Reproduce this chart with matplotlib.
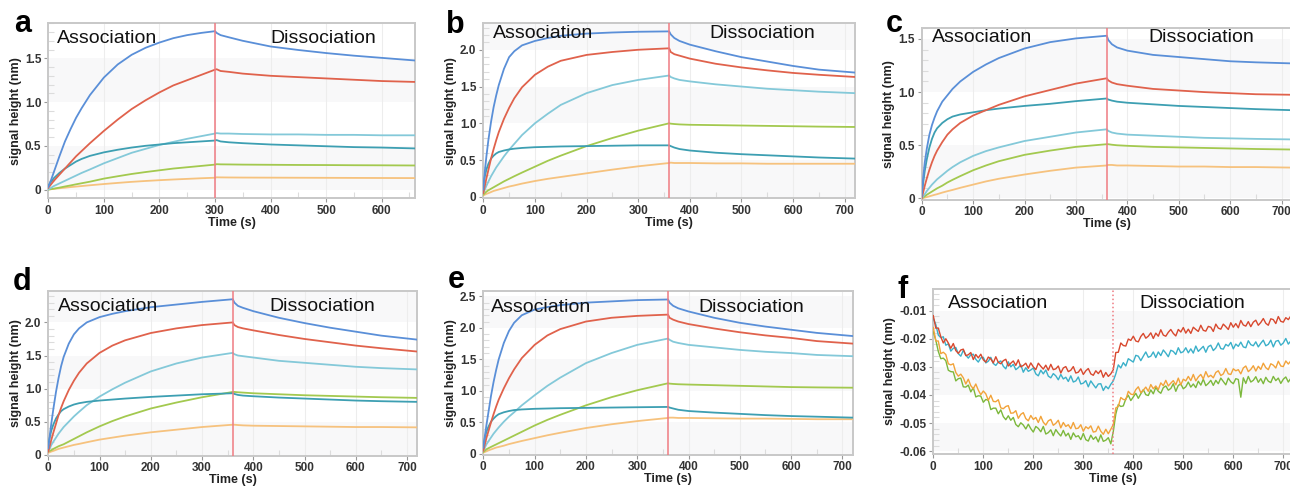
import numpy as np
import matplotlib
matplotlib.use('Agg')
import matplotlib.pyplot as plt
from matplotlib.ticker import FuncFormatter, MultipleLocator, FixedLocator

plt.rcParams['font.family'] = ['Liberation Sans', 'DejaVu Sans']
plt.rcParams['axes.unicode_minus'] = False

# curve colours (highest concentration first)
BLUE = '#5a8fd8'
RED = '#e0624c'
LCYAN = '#84c9d9'
TEAL = '#3d9fb2'
GREEN = '#a3c94f'
ORANGE = '#f6c27e'
STEP_LINE = '#ef7b82'

# ---- panel a : association 0-300 s ----
A_TIME = [0, 5, 10, 20, 30, 40, 50, 60, 75, 100, 125, 150, 175, 200, 225, 250, 275, 300,
          303, 310, 325, 350, 400, 450, 500, 550, 600, 660]
A_BLUE = [0.03, 0.11, 0.20, 0.38, 0.55, 0.69, 0.82, 0.93, 1.08, 1.28, 1.43, 1.54, 1.62, 1.68, 1.73, 1.765, 1.79, 1.81,
          1.79, 1.765, 1.74, 1.70, 1.635, 1.595, 1.56, 1.53, 1.505, 1.475]
A_RED = [0.02, 0.06, 0.10, 0.17, 0.24, 0.31, 0.38, 0.44, 0.53, 0.67, 0.80, 0.92, 1.02, 1.11, 1.19, 1.25, 1.31, 1.37,
         1.375, 1.355, 1.345, 1.325, 1.30, 1.285, 1.27, 1.255, 1.24, 1.23]
A_LCYAN = [0.0, 0.02, 0.04, 0.07, 0.10, 0.13, 0.16, 0.19, 0.23, 0.30, 0.36, 0.42, 0.465, 0.51, 0.545, 0.58, 0.61, 0.64,
           0.645, 0.64, 0.64, 0.635, 0.63, 0.63, 0.625, 0.625, 0.62, 0.62]
A_TEAL = [0.04, 0.09, 0.13, 0.19, 0.24, 0.28, 0.32, 0.35, 0.385, 0.425, 0.455, 0.48, 0.50, 0.515, 0.53, 0.54, 0.55, 0.56,
          0.565, 0.55, 0.54, 0.53, 0.515, 0.505, 0.495, 0.485, 0.48, 0.47]
A_GREEN = [0.0, 0.005, 0.01, 0.022, 0.035, 0.047, 0.06, 0.072, 0.09, 0.125, 0.152, 0.178, 0.20, 0.22, 0.24, 0.255, 0.27, 0.285,
           0.29, 0.288, 0.287, 0.285, 0.283, 0.281, 0.28, 0.278, 0.277, 0.275]
A_ORANGE = [0.0, 0.004, 0.008, 0.015, 0.021, 0.028, 0.034, 0.040, 0.049, 0.063, 0.076, 0.088, 0.098, 0.107, 0.115, 0.122, 0.129, 0.135,
            0.14, 0.139, 0.138, 0.137, 0.136, 0.135, 0.134, 0.133, 0.132, 0.131]

# ---- panels b-e : association 0-360 s ----
T360 = [0, 3, 6, 10, 15, 20, 25, 30, 40, 50, 60, 75, 100, 125, 150, 200, 250, 300, 360,
        363, 370, 380, 400, 450, 500, 550, 600, 650, 720]

B_BLUE = [0.10, 0.35, 0.55, 0.78, 1.02, 1.22, 1.38, 1.52, 1.74, 1.90, 1.98, 2.06, 2.12, 2.16, 2.19, 2.22, 2.235, 2.245, 2.25,
          2.21, 2.16, 2.12, 2.07, 1.98, 1.90, 1.84, 1.78, 1.73, 1.69]
B_RED = [0.05, 0.15, 0.25, 0.37, 0.52, 0.65, 0.77, 0.88, 1.06, 1.21, 1.34, 1.49, 1.66, 1.77, 1.85, 1.93, 1.97, 2.00, 2.02,
         1.97, 1.94, 1.92, 1.88, 1.81, 1.76, 1.72, 1.685, 1.66, 1.63]
B_LCYAN = [0.05, 0.10, 0.15, 0.21, 0.28, 0.34, 0.40, 0.45, 0.55, 0.64, 0.72, 0.84, 1.00, 1.13, 1.25, 1.41, 1.52, 1.59, 1.65,
           1.63, 1.61, 1.59, 1.57, 1.53, 1.50, 1.47, 1.45, 1.43, 1.41]
B_TEAL = [0.15, 0.28, 0.37, 0.45, 0.52, 0.56, 0.59, 0.61, 0.63, 0.645, 0.655, 0.665, 0.675, 0.68, 0.685, 0.69, 0.695, 0.70, 0.70,
          0.69, 0.67, 0.65, 0.63, 0.60, 0.58, 0.565, 0.55, 0.535, 0.52]
B_GREEN = [0.03, 0.05, 0.07, 0.09, 0.11, 0.13, 0.15, 0.17, 0.21, 0.245, 0.28, 0.33, 0.41, 0.49, 0.56, 0.69, 0.80, 0.90, 1.00,
           0.995, 0.99, 0.985, 0.98, 0.975, 0.97, 0.965, 0.96, 0.955, 0.95]
B_ORANGE = [0.02, 0.03, 0.04, 0.05, 0.065, 0.08, 0.09, 0.10, 0.12, 0.14, 0.155, 0.18, 0.215, 0.245, 0.27, 0.32, 0.37, 0.415, 0.46,
            0.465, 0.46, 0.46, 0.46, 0.455, 0.455, 0.45, 0.45, 0.45, 0.45]

C_BLUE = [0.02, 0.20, 0.34, 0.47, 0.60, 0.69, 0.76, 0.82, 0.91, 0.97, 1.03, 1.10, 1.19, 1.26, 1.32, 1.41, 1.47, 1.505, 1.53,
          1.49, 1.45, 1.42, 1.39, 1.35, 1.33, 1.31, 1.29, 1.28, 1.27]
C_RED = [0.0, 0.06, 0.12, 0.19, 0.27, 0.34, 0.40, 0.45, 0.53, 0.60, 0.65, 0.71, 0.78, 0.83, 0.88, 0.96, 1.02, 1.08, 1.13,
         1.11, 1.09, 1.075, 1.06, 1.03, 1.015, 1.00, 0.99, 0.98, 0.975]
C_LCYAN = [0.0, 0.02, 0.04, 0.07, 0.10, 0.13, 0.155, 0.18, 0.22, 0.26, 0.295, 0.34, 0.40, 0.445, 0.48, 0.54, 0.58, 0.62, 0.65,
           0.635, 0.62, 0.61, 0.60, 0.59, 0.58, 0.57, 0.565, 0.56, 0.555]
C_TEAL = [0.02, 0.15, 0.26, 0.37, 0.48, 0.56, 0.62, 0.66, 0.71, 0.745, 0.77, 0.79, 0.81, 0.83, 0.845, 0.87, 0.89, 0.915, 0.94,
          0.93, 0.92, 0.91, 0.90, 0.885, 0.87, 0.86, 0.85, 0.84, 0.83]
C_GREEN = [0.0, 0.01, 0.02, 0.035, 0.05, 0.065, 0.08, 0.095, 0.12, 0.15, 0.175, 0.21, 0.265, 0.31, 0.35, 0.41, 0.45, 0.485, 0.51,
           0.51, 0.505, 0.50, 0.495, 0.485, 0.48, 0.475, 0.47, 0.465, 0.46]
C_ORANGE = [0.0, 0.004, 0.008, 0.013, 0.02, 0.027, 0.034, 0.04, 0.055, 0.068, 0.08, 0.10, 0.13, 0.16, 0.185, 0.225, 0.26, 0.29, 0.31,
            0.315, 0.315, 0.31, 0.31, 0.305, 0.30, 0.30, 0.295, 0.295, 0.29]

D_BLUE = [0.10, 0.30, 0.48, 0.70, 0.95, 1.16, 1.34, 1.48, 1.68, 1.82, 1.91, 2.00, 2.08, 2.13, 2.17, 2.23, 2.27, 2.31, 2.35,
          2.30, 2.25, 2.22, 2.17, 2.07, 1.99, 1.92, 1.86, 1.80, 1.74]
D_RED = [0.05, 0.14, 0.23, 0.34, 0.47, 0.60, 0.71, 0.81, 0.98, 1.12, 1.24, 1.38, 1.54, 1.65, 1.73, 1.84, 1.91, 1.96, 2.00,
         1.96, 1.93, 1.91, 1.88, 1.81, 1.75, 1.70, 1.65, 1.61, 1.56]
D_LCYAN = [0.05, 0.10, 0.15, 0.20, 0.26, 0.32, 0.37, 0.42, 0.50, 0.58, 0.65, 0.75, 0.88, 0.99, 1.09, 1.26, 1.38, 1.47, 1.54,
           1.52, 1.50, 1.49, 1.47, 1.42, 1.39, 1.36, 1.33, 1.31, 1.29]
D_TEAL = [0.15, 0.27, 0.37, 0.46, 0.55, 0.61, 0.66, 0.69, 0.73, 0.76, 0.78, 0.80, 0.82, 0.835, 0.85, 0.875, 0.895, 0.915, 0.93,
          0.92, 0.905, 0.895, 0.885, 0.865, 0.85, 0.835, 0.82, 0.81, 0.80]
D_GREEN = [0.05, 0.06, 0.07, 0.09, 0.11, 0.13, 0.145, 0.16, 0.20, 0.24, 0.28, 0.34, 0.43, 0.51, 0.58, 0.70, 0.79, 0.87, 0.95,
           0.95, 0.945, 0.94, 0.93, 0.915, 0.90, 0.89, 0.88, 0.87, 0.86]
D_ORANGE = [0.03, 0.04, 0.05, 0.06, 0.075, 0.09, 0.10, 0.11, 0.13, 0.15, 0.165, 0.19, 0.23, 0.26, 0.29, 0.34, 0.38, 0.42, 0.455,
            0.455, 0.45, 0.445, 0.44, 0.435, 0.43, 0.425, 0.42, 0.42, 0.415]

E_BLUE = [0.10, 0.28, 0.45, 0.66, 0.92, 1.14, 1.33, 1.50, 1.76, 1.95, 2.08, 2.20, 2.29, 2.33, 2.36, 2.40, 2.42, 2.44, 2.45,
          2.40, 2.35, 2.31, 2.26, 2.16, 2.08, 2.02, 1.97, 1.92, 1.87]
E_RED = [0.05, 0.15, 0.25, 0.36, 0.50, 0.63, 0.75, 0.86, 1.04, 1.20, 1.34, 1.52, 1.73, 1.88, 1.98, 2.10, 2.16, 2.19, 2.21,
         2.16, 2.13, 2.10, 2.06, 1.99, 1.93, 1.88, 1.84, 1.79, 1.75]
E_LCYAN = [0.05, 0.10, 0.15, 0.20, 0.26, 0.32, 0.37, 0.42, 0.51, 0.59, 0.66, 0.77, 0.93, 1.08, 1.21, 1.44, 1.60, 1.73, 1.83,
           1.81, 1.78, 1.76, 1.73, 1.69, 1.65, 1.62, 1.60, 1.57, 1.55]
E_TEAL = [0.12, 0.25, 0.35, 0.43, 0.51, 0.56, 0.60, 0.63, 0.66, 0.68, 0.695, 0.705, 0.715, 0.72, 0.725, 0.73, 0.735, 0.74, 0.745,
          0.735, 0.72, 0.70, 0.68, 0.655, 0.635, 0.615, 0.60, 0.59, 0.575]
E_GREEN = [0.03, 0.05, 0.07, 0.09, 0.11, 0.13, 0.15, 0.17, 0.21, 0.25, 0.29, 0.35, 0.45, 0.54, 0.62, 0.77, 0.90, 1.01, 1.12,
           1.115, 1.11, 1.105, 1.10, 1.09, 1.08, 1.07, 1.06, 1.055, 1.05]
E_ORANGE = [0.02, 0.03, 0.04, 0.055, 0.07, 0.085, 0.10, 0.11, 0.13, 0.155, 0.175, 0.205, 0.25, 0.295, 0.335, 0.41, 0.47, 0.52, 0.57,
            0.575, 0.575, 0.57, 0.57, 0.565, 0.56, 0.56, 0.555, 0.55, 0.55]

# ---- panel f : negative control, sampled every 5 s (0-720 s) ----
F_TIME = np.arange(0, 721, 5)
F_RED = [
    -0.0118, -0.0162, -0.0162, -0.0193, -0.0215, -0.0200, -0.0215, -0.0234, -0.0217, -0.0242,
    -0.0252, -0.0240, -0.0237, -0.0260, -0.0257, -0.0249, -0.0274, -0.0256, -0.0268, -0.0255,
    -0.0275, -0.0283, -0.0265, -0.0272, -0.0286, -0.0264, -0.0284, -0.0289, -0.0278, -0.0273,
    -0.0297, -0.0287, -0.0279, -0.0295, -0.0275, -0.0300, -0.0295, -0.0287, -0.0305, -0.0286,
    -0.0300, -0.0310, -0.0287, -0.0298, -0.0308, -0.0294, -0.0312, -0.0291, -0.0310, -0.0307,
    -0.0297, -0.0322, -0.0304, -0.0299, -0.0317, -0.0312, -0.0299, -0.0322, -0.0319, -0.0307,
    -0.0327, -0.0314, -0.0306, -0.0325, -0.0330, -0.0314, -0.0324, -0.0312, -0.0337, -0.0320,
    -0.0334, -0.0325, -0.0310,
    -0.0249, -0.0248, -0.0215, -0.0224, -0.0226, -0.0201, -0.0206, -0.0191, -0.0208, -0.0211,
    -0.0192, -0.0181, -0.0198, -0.0191, -0.0179, -0.0199, -0.0180, -0.0191, -0.0168, -0.0187,
    -0.0191, -0.0177, -0.0167, -0.0181, -0.0190, -0.0167, -0.0176, -0.0160, -0.0180, -0.0166,
    -0.0181, -0.0159, -0.0167, -0.0174, -0.0152, -0.0170, -0.0173, -0.0156, -0.0159, -0.0174,
    -0.0148, -0.0162, -0.0166, -0.0148, -0.0157, -0.0167, -0.0143, -0.0159, -0.0146, -0.0161,
    -0.0135, -0.0151, -0.0155, -0.0139, -0.0157, -0.0141, -0.0134, -0.0152, -0.0142, -0.0128,
    -0.0145, -0.0152, -0.0129, -0.0132, -0.0146, -0.0121, -0.0138, -0.0141, -0.0125, -0.0132,
    -0.0119, -0.0135]
F_CYAN = [
    -0.0128, -0.0149, -0.0187, -0.0196, -0.0193, -0.0223, -0.0218, -0.0244, -0.0234, -0.0231,
    -0.0253, -0.0262, -0.0241, -0.0258, -0.0269, -0.0257, -0.0255, -0.0273, -0.0283, -0.0268,
    -0.0266, -0.0286, -0.0280, -0.0266, -0.0288, -0.0295, -0.0283, -0.0279, -0.0298, -0.0307,
    -0.0282, -0.0300, -0.0291, -0.0310, -0.0303, -0.0293, -0.0319, -0.0303, -0.0316, -0.0311,
    -0.0304, -0.0325, -0.0332, -0.0312, -0.0325, -0.0311, -0.0333, -0.0339, -0.0324, -0.0332,
    -0.0346, -0.0327, -0.0343, -0.0337, -0.0352, -0.0332, -0.0354, -0.0350, -0.0336, -0.0361,
    -0.0358, -0.0349, -0.0371, -0.0350, -0.0363, -0.0375, -0.0361, -0.0360, -0.0384, -0.0369,
    -0.0378, -0.0362, -0.0350,
    -0.0325, -0.0293, -0.0304, -0.0285, -0.0297, -0.0271, -0.0277, -0.0283, -0.0259, -0.0262,
    -0.0278, -0.0262, -0.0247, -0.0266, -0.0262, -0.0247, -0.0267, -0.0247, -0.0260, -0.0240,
    -0.0251, -0.0264, -0.0241, -0.0245, -0.0256, -0.0232, -0.0250, -0.0246, -0.0232, -0.0250,
    -0.0236, -0.0251, -0.0226, -0.0245, -0.0236, -0.0227, -0.0248, -0.0228, -0.0223, -0.0242,
    -0.0233, -0.0215, -0.0235, -0.0237, -0.0220, -0.0226, -0.0213, -0.0236, -0.0219, -0.0227,
    -0.0212, -0.0229, -0.0232, -0.0207, -0.0221, -0.0225, -0.0211, -0.0229, -0.0216, -0.0205,
    -0.0225, -0.0220, -0.0205, -0.0229, -0.0209, -0.0206, -0.0223, -0.0215, -0.0199, -0.0219,
    -0.0208, -0.0219]
F_ORANGE = [
    -0.0160, -0.0208, -0.0208, -0.0253, -0.0248, -0.0256, -0.0289, -0.0293, -0.0289, -0.0320,
    -0.0333, -0.0326, -0.0339, -0.0361, -0.0344, -0.0367, -0.0378, -0.0361, -0.0383, -0.0399,
    -0.0386, -0.0396, -0.0419, -0.0401, -0.0423, -0.0424, -0.0417, -0.0446, -0.0449, -0.0441,
    -0.0438, -0.0465, -0.0464, -0.0456, -0.0483, -0.0469, -0.0463, -0.0484, -0.0492, -0.0473,
    -0.0487, -0.0480, -0.0498, -0.0476, -0.0497, -0.0507, -0.0492, -0.0487, -0.0508, -0.0501,
    -0.0490, -0.0517, -0.0498, -0.0512, -0.0506, -0.0520, -0.0498, -0.0520, -0.0518, -0.0506,
    -0.0529, -0.0513, -0.0520, -0.0510, -0.0532, -0.0530, -0.0511, -0.0529, -0.0540, -0.0522,
    -0.0538, -0.0522, -0.0505,
    -0.0446, -0.0441, -0.0409, -0.0416, -0.0417, -0.0387, -0.0397, -0.0399, -0.0381, -0.0371,
    -0.0392, -0.0383, -0.0372, -0.0387, -0.0363, -0.0378, -0.0368, -0.0381, -0.0357, -0.0367,
    -0.0348, -0.0368, -0.0358, -0.0349, -0.0364, -0.0340, -0.0364, -0.0344, -0.0350, -0.0334,
    -0.0349, -0.0327, -0.0350, -0.0336, -0.0327, -0.0343, -0.0317, -0.0336, -0.0330, -0.0339,
    -0.0320, -0.0314, -0.0331, -0.0325, -0.0306, -0.0325, -0.0327, -0.0307, -0.0314, -0.0310,
    -0.0325, -0.0304, -0.0297, -0.0317, -0.0309, -0.0296, -0.0315, -0.0298, -0.0309, -0.0287,
    -0.0303, -0.0310, -0.0289, -0.0294, -0.0304, -0.0280, -0.0297, -0.0299, -0.0279, -0.0290,
    -0.0279, -0.0296]
F_GREEN = [
    -0.0175, -0.0205, -0.0245, -0.0271, -0.0269, -0.0278, -0.0312, -0.0317, -0.0318, -0.0350,
    -0.0342, -0.0340, -0.0371, -0.0372, -0.0365, -0.0389, -0.0374, -0.0407, -0.0403, -0.0404,
    -0.0426, -0.0416, -0.0419, -0.0452, -0.0447, -0.0447, -0.0467, -0.0453, -0.0477, -0.0488,
    -0.0474, -0.0490, -0.0480, -0.0505, -0.0513, -0.0499, -0.0507, -0.0521, -0.0504, -0.0520,
    -0.0532, -0.0512, -0.0519, -0.0531, -0.0512, -0.0539, -0.0534, -0.0524, -0.0545, -0.0523,
    -0.0536, -0.0546, -0.0526, -0.0546, -0.0536, -0.0558, -0.0535, -0.0549, -0.0545, -0.0559,
    -0.0537, -0.0559, -0.0564, -0.0543, -0.0558, -0.0549, -0.0567, -0.0542, -0.0565, -0.0561,
    -0.0552, -0.0574, -0.0530,
    -0.0468, -0.0434, -0.0441, -0.0439, -0.0414, -0.0401, -0.0420, -0.0407, -0.0394, -0.0412,
    -0.0396, -0.0381, -0.0399, -0.0402, -0.0382, -0.0396, -0.0373, -0.0387, -0.0394, -0.0374,
    -0.0368, -0.0383, -0.0377, -0.0360, -0.0387, -0.0366, -0.0361, -0.0378, -0.0371, -0.0354,
    -0.0372, -0.0361, -0.0374, -0.0351, -0.0365, -0.0344, -0.0367, -0.0359, -0.0348, -0.0366,
    -0.0348, -0.0360, -0.0340, -0.0352, -0.0364, -0.0340, -0.0353, -0.0360, -0.0342, -0.0345,
    -0.0408, -0.0339, -0.0359, -0.0334, -0.0354, -0.0348, -0.0335, -0.0355, -0.0342, -0.0360,
    -0.0337, -0.0351, -0.0356, -0.0334, -0.0349, -0.0340, -0.0359, -0.0344, -0.0336, -0.0354,
    -0.0341, -0.0357]

W, H = 1290, 486


def add_axes_px(fig, left, top, right, bottom):
    return fig.add_axes([left / W, 1 - bottom / H, (right - left) / W, (bottom - top) / H])


def fmt_nm(v, pos):
    if abs(v) < 1e-9:
        return '0'
    return '%.1f' % v


def fmt_small(v, pos):
    return '%.2f' % v


def style(ax, xmax, ylim, yticks, bands, step, formatter):
    ax.set_xlim(0, xmax)
    ax.set_ylim(*ylim)
    for lo, hi in bands:
        ax.axhspan(lo, hi, color='#f8f8f9', zorder=0, lw=0)
    for x in range(100, int(xmax) + 1, 100):
        ax.axvline(x, color='#ededed', lw=0.8, zorder=0.5)
    ax.axvline(step, color=STEP_LINE, lw=1.1, zorder=5,
               ls=':' if formatter is fmt_small else '-')
    ax.set_xticks(range(0, int(xmax) + 1, 100))
    ax.xaxis.set_minor_locator(MultipleLocator(50))
    ax.yaxis.set_major_locator(FixedLocator(yticks))
    ax.yaxis.set_minor_locator(MultipleLocator((yticks[1] - yticks[0]) / 5))
    ax.yaxis.set_major_formatter(FuncFormatter(formatter))
    ax.tick_params(which='major', length=3, width=0.8, color='#999999', pad=2,
                   labelsize=8.5, labelcolor='#333333')
    ax.tick_params(which='minor', direction='in', length=4, width=0.8, color='#dcdcdc')
    for lab in ax.get_xticklabels() + ax.get_yticklabels():
        lab.set_fontweight('bold')
    for sp in ax.spines.values():
        sp.set_color('#c8c8c8')
        sp.set_linewidth(1.4)
    ax.set_xlabel('Time (s)', fontsize=9, fontweight='bold', labelpad=0, color='#222222')
    ax.set_ylabel('signal height (nm)', fontsize=9, fontweight='bold', labelpad=2, color='#222222')


def phase_text(ax, x_assoc, x_dissoc, below_px):
    for x, s in ((x_assoc, 'Association'), (x_dissoc, 'Dissociation')):
        ax.annotate(s, xy=(x, 1), xycoords=('data', 'axes fraction'),
                    xytext=(0, -below_px * 0.72), textcoords='offset points',
                    va='baseline', ha='left', fontsize=14, color='#111111', zorder=6)


fig = plt.figure(figsize=(W / 100, H / 100), dpi=100)

panels = [
    # letter, letter pos, axes box (px), xmax, ylim, yticks, bands, step, time, curves, text
    ('a', (14, 32), (48.3, 23.3, 415, 198.3), 660, (-0.1, 1.9), [0, 0.5, 1.0, 1.5],
     [(0, 0.5), (1.0, 1.5)], 300, A_TIME,
     [A_ORANGE, A_GREEN, A_LCYAN, A_TEAL, A_RED, A_BLUE], (16, 399, 20)),
    ('b', (446, 33), (483.3, 23.3, 855, 198.3), 720, (-0.02, 2.36), [0, 0.5, 1.0, 1.5, 2.0],
     [(0, 0.5), (1.0, 1.5), (2.0, 2.5)], 360, T360,
     [B_ORANGE, B_GREEN, B_LCYAN, B_TEAL, B_RED, B_BLUE], (19, 437, 15)),
    ('c', (886, 32), (921.7, 28.3, 1291.8, 199.5), 720, (-0.01, 1.6), [0, 0.5, 1.0, 1.5],
     [(0, 0.5), (1.0, 1.5)], 360, T360,
     [C_ORANGE, C_GREEN, C_LCYAN, C_TEAL, C_RED, C_BLUE], (19, 441, 13.5)),
    ('d', (13, 290), (48.3, 291.3, 417.3, 455.5), 720, (-0.01, 2.47), [0, 0.5, 1.0, 1.5, 2.0],
     [(0, 0.5), (1.0, 1.5), (2.0, 2.5)], 360, T360,
     [D_ORANGE, D_GREEN, D_LCYAN, D_TEAL, D_RED, D_BLUE], (19, 431, 20)),
    ('e', (448, 288), (483.3, 291.3, 852.7, 454.5), 720, (-0.01, 2.58), [0, 0.5, 1.0, 1.5, 2.0, 2.5],
     [(0, 0.5), (1.0, 1.5), (2.0, 2.5)], 360, T360,
     [E_ORANGE, E_GREEN, E_LCYAN, E_TEAL, E_RED, E_BLUE], (14, 420, 21)),
]
colors = [ORANGE, GREEN, LCYAN, TEAL, RED, BLUE]

for letter, (lx, ly), box, xmax, ylim, yticks, bands, step, tt, curves, txt in panels:
    ax = add_axes_px(fig, *box)
    style(ax, xmax, ylim, yticks, bands, step, fmt_nm)
    for vals, c in zip(curves, colors):
        ax.plot(tt, vals, color=c, lw=1.3, zorder=3)
    phase_text(ax, *txt)
    fig.text(lx / W, 1 - ly / H, letter, fontsize=22, fontweight='bold', va='baseline')

# panel f
ax = add_axes_px(fig, 933.3, 289, 1293.3, 453.7)
style(ax, 720, (-0.0609, -0.0023), [-0.06, -0.05, -0.04, -0.03, -0.02, -0.01],
      [(-0.02, -0.01), (-0.04, -0.03), (-0.06, -0.05)], 360, fmt_small)
for vals, c in ((F_GREEN, '#7cb83c'), (F_ORANGE, '#f2a33a'), (F_CYAN, '#3bb0c9'), (F_RED, '#d8482e')):
    ax.plot(F_TIME, vals, color=c, lw=1.0, zorder=3)
phase_text(ax, 30, 413, 19)
fig.text(897 / W, 1 - 298 / H, 'f', fontsize=22, fontweight='bold', va='baseline')

fig.savefig('out.png', dpi=100)
